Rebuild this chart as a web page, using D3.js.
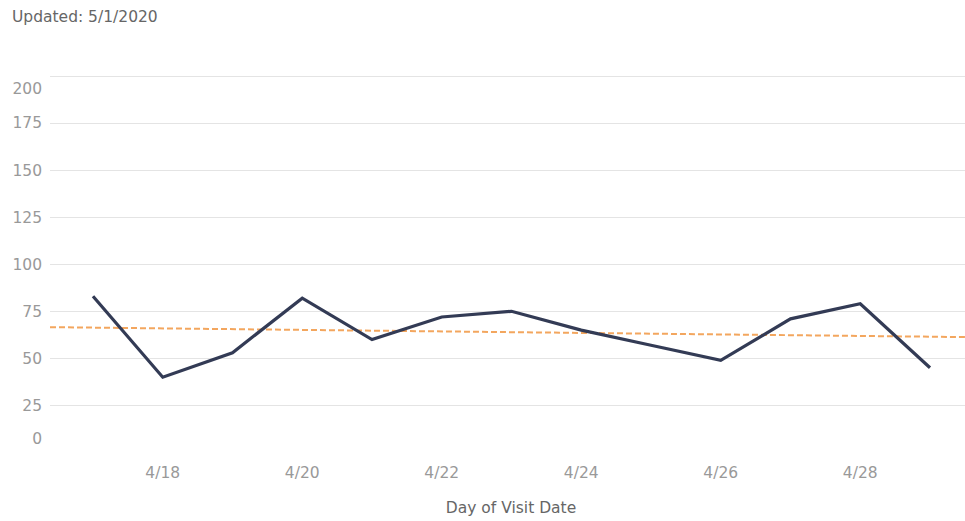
<!DOCTYPE html>
<html>
<head>
<meta charset="utf-8">
<script src="https://cdn.jsdelivr.net/npm/d3@7"></script>
<style>
    body { margin: 0; background: #fff; }
    svg { display: block; font-family: "DejaVu Sans", "Noto Sans", sans-serif; }
</style>
</head>
<body>
<svg id="chart" width="965" height="521"></svg>
<script>
// Daily visits, 4/17/2020 .. 4/29/2020
const dates  = ["2020-04-17", "2020-04-18", "2020-04-19", "2020-04-20", "2020-04-21",
                "2020-04-22", "2020-04-23", "2020-04-24", "2020-04-25", "2020-04-26",
                "2020-04-27", "2020-04-28", "2020-04-29"];
const visits = [83, 40, 53, 82, 60, 72, 75, 65, 57, 49, 71, 79, 45];
const yTicks = [0, 25, 50, 75, 100, 125, 150, 175, 200];
const xTicks = ["2020-04-18", "2020-04-20", "2020-04-22", "2020-04-24", "2020-04-26", "2020-04-28"];

const parse = d3.utcParse("%Y-%m-%d");
const data  = dates.map((d, i) => ({date: parse(d), value: visits[i]}));

const svg = d3.select("#chart");
const pane = {left: 50, right: 965, top: 76, bottom: 452.5};
const fontSize = 15.5;

// x positions of first / last day inside the pane
let x = d3.scaleUtc()
    .domain(d3.extent(data, d => d.date))
    .range([93, 930]);

let y = d3.scaleLinear()
    .domain([0, 200])
    .range([pane.bottom, pane.top]);

// Title
svg.append("text")
    .attr("x", 12)
    .attr("y", 22)
    .attr("font-size", fontSize)
    .attr("fill", "#666")
    .text("Updated: 5/1/2020");

// Gridlines (no line at zero)
svg.append("g")
    .selectAll("line")
    .data(yTicks.filter(t => t > 0))
    .join("line")
    .attr("x1", pane.left)
    .attr("x2", pane.right)
    .attr("y1", d => Math.round(y(d)) + 0.5)
    .attr("y2", d => Math.round(y(d)) + 0.5)
    .attr("stroke", "#e4e4e4")
    .attr("stroke-width", 1);

// Y labels, end labels nudged inside the pane like Tableau does
svg.append("g")
    .selectAll("text")
    .data(yTicks)
    .join("text")
    .attr("x", 42)
    .attr("y", d => d === 200 ? y(d) + 13 : (d === 0 ? y(d) - 14 : y(d)))
    .attr("dy", "0.35em")
    .attr("text-anchor", "end")
    .attr("font-size", fontSize)
    .attr("fill", "#999")
    .text(d => d);

// X labels
const fmt = d3.utcFormat("%-m/%-d");
svg.append("g")
    .selectAll("text")
    .data(xTicks.map(parse))
    .join("text")
    .attr("x", d => x(d))
    .attr("y", 473)
    .attr("dy", "0.35em")
    .attr("text-anchor", "middle")
    .attr("font-size", fontSize)
    .attr("fill", "#999")
    .text(d => fmt(d));

svg.append("text")
    .attr("x", 511)
    .attr("y", 513)
    .attr("text-anchor", "middle")
    .attr("font-size", fontSize)
    .attr("fill", "#666")
    .text("Day of Visit Date");

// Linear trend line across the whole pane (least squares on the data)
let xs = data.map(d => +d.date), ys = data.map(d => d.value);
let mx = d3.mean(xs), my = d3.mean(ys);
let slope = d3.sum(xs, (v, i) => (v - mx) * (ys[i] - my)) / d3.sum(xs, v => (v - mx) * (v - mx));
let x0 = x.invert(pane.left), x1 = x.invert(pane.right);
let trend = [x0, x1].map(t => ({date: t, value: my + slope * (+t - mx)}));

const lineGen = d3.line()
    .x(d => x(d.date))
    .y(d => y(d.value));

svg.append("path")
    .datum(trend)
    .attr("d", lineGen)
    .attr("fill", "none")
    .attr("stroke", "#f3a65e")
    .attr("stroke-width", 2)
    .attr("stroke-dasharray", "6,3");

svg.append("path")
    .datum(data)
    .attr("d", lineGen)
    .attr("fill", "none")
    .attr("stroke", "#333b55")
    .attr("stroke-width", 3.2)
    .attr("stroke-linejoin", "miter");
</script>
</body>
</html>
